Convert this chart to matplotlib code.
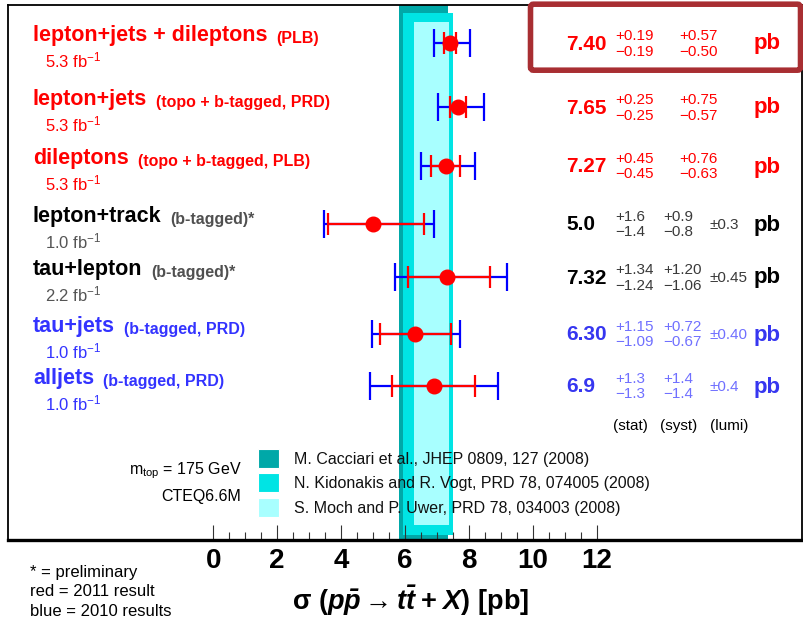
# Top pair cross section summary plot
import matplotlib
matplotlib.use('Agg')
import matplotlib.pyplot as plt
from matplotlib.patches import Rectangle, FancyBboxPatch

plt.rcParams['font.family'] = ['Liberation Sans', 'DejaVu Sans']
plt.rcParams['mathtext.fontset'] = 'custom'
plt.rcParams['mathtext.rm'] = 'Liberation Sans'
plt.rcParams['mathtext.it'] = 'Liberation Sans:italic'
plt.rcParams['mathtext.bf'] = 'Liberation Sans:bold'
plt.rcParams['mathtext.bfit'] = 'Liberation Sans:bold:italic'

# measurements
labels = ['lepton+jets + dileptons', 'lepton+jets', 'dileptons', 'lepton+track',
          'tau+lepton', 'tau+jets', 'alljets']
quals = ['(PLB)', '(topo + b-tagged, PRD)', '(topo + b-tagged, PLB)', '(b-tagged)*',
         '(b-tagged)*', '(b-tagged, PRD)', '(b-tagged, PRD)']
lumis = ['5.3', '5.3', '5.3', '1.0', '2.2', '1.0', '1.0']
values = [7.40, 7.65, 7.27, 5.0, 7.32, 6.30, 6.9]
decimals = [2, 2, 2, 1, 2, 2, 1]
stat_up = ['0.19', '0.25', '0.45', '1.6', '1.34', '1.15', '1.3']
stat_dn = ['0.19', '0.25', '0.45', '1.4', '1.24', '1.09', '1.3']
syst_up = ['0.57', '0.75', '0.76', '0.9', '1.20', '0.72', '1.4']
syst_dn = ['0.50', '0.57', '0.63', '0.8', '1.06', '0.67', '1.4']
lumi_err = [None, None, None, '0.3', '0.45', '0.40', '0.4']
# total uncertainty (blue bars)
tot_up = [0.63, 0.82, 0.92, 1.92, 1.86, 1.42, 2.02]
tot_dn = [0.51, 0.61, 0.77, 1.55, 1.63, 1.32, 2.00]
row_kind = ['red', 'red', 'red', 'black', 'black', 'blue', 'blue']

# theory bands (x range)
theory = ['M. Cacciari et al., JHEP 0809, 127 (2008)',
          'N. Kidonakis and R. Vogt, PRD 78, 074005 (2008)',
          'S. Moch and P. Uwer, PRD 78, 034003 (2008)']
band_lo = [5.82, 5.95, 6.29]
band_hi = [7.33, 7.49, 7.38]
band_col = ['#00A8A8', '#00E4E4', '#A8FFFF']

# layout (pixel rows)
rows = [43, 107, 166, 224, 277, 334, 386]
band_top = [5, 12.7, 21.7]
band_bot = [540, 535, 525]

pal = {
    'red': dict(main='#FF0000', qual='#FF0000', sub='#FF0000', val='#FF0000', err='#FF0000'),
    'black': dict(main='#000000', qual='#505050', sub='#555555', val='#000000', err='#3A3A3A'),
    'blue': dict(main='#3333FF', qual='#3333FF', sub='#3333FF', val='#3636F0', err='#7070FF'),
}

W, H = 804, 619
fig = plt.figure(figsize=(W / 100, H / 100), dpi=100)
x0pix, xscale = 213.3, 31.96
ax = fig.add_axes([8 / W, 1 - 540 / H, (802 - 8) / W, (540 - 5) / H])
ax.set_xlim((8 - x0pix) / xscale, (802 - x0pix) / xscale)
ax.set_ylim(540, 5)

for lo, hi, t, b, c in zip(band_lo, band_hi, band_top, band_bot, band_col):
    ax.add_patch(Rectangle((lo, t), hi - lo, b - t, facecolor=c, edgecolor='none', zorder=1))

ax.errorbar(values, rows, xerr=[tot_dn, tot_up], fmt='none', ecolor='#0000FF',
            elinewidth=1.6, capsize=10, capthick=1.6, zorder=3)
sdn = [float(s) for s in stat_dn]
sup = [float(s) for s in stat_up]
ax.errorbar(values, rows, xerr=[sdn, sup], fmt='none', ecolor='#FF0000',
            elinewidth=1.6, capsize=8, capthick=1.6, zorder=4)
ax.plot(values, rows, 'o', color='#FF0000', ms=10.5, zorder=5)

ax.set_xticks(range(0, 13, 2))
ax.set_xticks([i * 0.5 for i in range(25) if i % 4], minor=True)
ax.set_yticks([])
ax.tick_params(axis='x', which='major', direction='in', length=11, width=0.8,
               color='#333333', pad=6)
ax.tick_params(axis='x', which='minor', direction='in', length=6, width=0.8,
               color='#333333')
for lab in ax.get_xticklabels():
    lab.set_family(['Liberation Sans Narrow', 'Liberation Sans'])
    lab.set_fontweight('bold')
    lab.set_fontsize(20)
for s in ['left', 'top', 'right']:
    ax.spines[s].set_linewidth(1.3)
ax.spines['bottom'].set_linewidth(2.4)

# overlay for all text, in pixel coordinates
ov = fig.add_axes([0, 0, 1, 1])
ov.set_xlim(0, W)
ov.set_ylim(H, 0)
ov.axis('off')

for i, y in enumerate(rows):
    c = pal[row_kind[i]]
    t = ov.text(33, y - 2, labels[i], fontsize=15.5, fontweight='bold', color=c['main'],
                va='baseline', ha='left')
    ov.annotate(quals[i], xy=(1, 0), xycoords=t, xytext=(6.5, 0), textcoords='offset points',
                fontsize=11.5, fontweight='bold', color=c['qual'], va='bottom', ha='left')
    ov.text(45, y + 24, lumis[i] + r' fb$^{-1}$', fontsize=12, color=c['sub'],
            va='baseline', ha='left')

    ov.text(566, y + 1, f'{values[i]:.{decimals[i]}f}', fontsize=15, fontweight='bold',
            color=c['val'], va='center', ha='left')
    ov.text(615, y - 7, '+' + stat_up[i], fontsize=11, color=c['err'], va='center')
    ov.text(615, y + 8.5, '\u2212' + stat_dn[i], fontsize=11, color=c['err'], va='center')
    sx = 679 if lumi_err[i] is None else 663
    ov.text(sx, y - 7, '+' + syst_up[i], fontsize=11, color=c['err'], va='center')
    ov.text(sx, y + 8.5, '\u2212' + syst_dn[i], fontsize=11, color=c['err'], va='center')
    if lumi_err[i] is not None:
        ov.text(710, y + 1, '\u00b1' + lumi_err[i], fontsize=11, color=c['err'], va='center')
    ov.text(754, y + 1, 'pb', fontsize=16, fontweight='bold', color=c['val'], va='center')

for x, s in zip([613, 660, 710], ['(stat)', '(syst)', '(lumi)']):
    ov.text(x, 426, s, fontsize=11, va='center')

# highlight box around the combined result
ov.add_patch(FancyBboxPatch((530.5, 4.2), 270, 66, boxstyle='round,pad=0,rounding_size=3',
                            linewidth=4, edgecolor='#A82E32', facecolor='none'))

# legend for theory bands
leg_y = [(449, 467.7), (473.3, 492), (498.3, 516.7)]
for (t, b), c, name in zip(leg_y, band_col, theory):
    ov.add_patch(Rectangle((258.5, t), 20.5, b - t, facecolor=c, edgecolor='white', lw=0.8))
    ov.text(294, (t + b) / 2 + 1, name, fontsize=11.5, va='center', ha='left', color='#111111')
ov.text(242, 471, r'm$_{\rm top}$ = 175 GeV', fontsize=11.5, va='center', ha='right')
ov.text(241, 497, 'CTEQ6.6M', fontsize=11.5, va='center', ha='right')

for y, s in zip([573, 592, 611], ['* = preliminary', 'red = 2011 result', 'blue = 2010 results']):
    ov.text(30, y, s, fontsize=12, va='center', ha='left')

ov.text(411, 601, r'$\mathbf{\sigma\ (}\mathbfit{p\bar{p}}\mathbf{\rightarrow}\mathbfit{t\bar{t}}'
        r'\;\mathbf{+}\;\mathbfit{X}\mathbf{)\ [pb]}$', fontsize=19.5, ha='center', va='center')

fig.savefig('out.png', dpi=100)
